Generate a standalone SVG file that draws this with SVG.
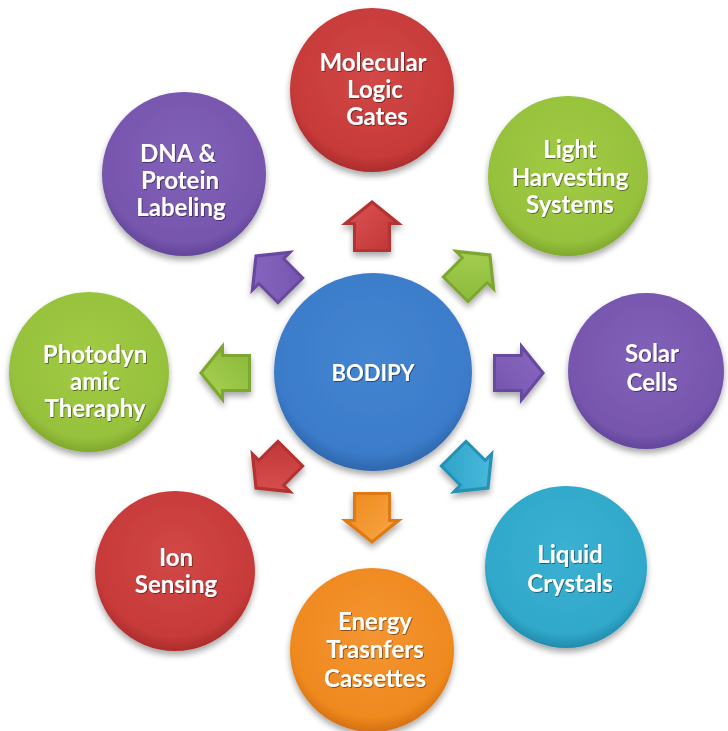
<svg xmlns="http://www.w3.org/2000/svg" width="728" height="731" viewBox="0 0 728 731">
  <defs>
    <style>
      .lbl { font-family: Lato, "Open Sans", "Liberation Sans", sans-serif; font-weight: 700; font-size: 24px; fill: #ffffff; text-anchor: middle; filter: url(#txtShadow); }
      .core { font-size: 22px; }
    </style>
    <filter id="shadow" x="-20%" y="-20%" width="140%" height="150%">
      <feGaussianBlur in="SourceAlpha" stdDeviation="3"/>
      <feOffset dx="0" dy="4" result="b"/>
      <feComponentTransfer><feFuncA type="linear" slope="0.35"/></feComponentTransfer>
      <feMerge><feMergeNode/><feMergeNode in="SourceGraphic"/></feMerge>
    </filter>
    <filter id="txtShadow" x="-10%" y="-30%" width="120%" height="160%">
      <feDropShadow dx="0.8" dy="0.8" stdDeviation="0.6" flood-color="#000" flood-opacity="0.55"/>
    </filter>

    <!-- ball gradients: slightly lighter top, darker rim -->
    <radialGradient id="gRed" cx="50%" cy="42%" r="58%">
      <stop offset="0" stop-color="#d24847"/><stop offset="0.85" stop-color="#c63a39"/><stop offset="1" stop-color="#ab2c2c"/>
    </radialGradient>
    <radialGradient id="gGreen" cx="50%" cy="42%" r="58%">
      <stop offset="0" stop-color="#a2cb45"/><stop offset="0.85" stop-color="#96c13c"/><stop offset="1" stop-color="#80a82e"/>
    </radialGradient>
    <radialGradient id="gPurple" cx="50%" cy="42%" r="58%">
      <stop offset="0" stop-color="#8261b8"/><stop offset="0.85" stop-color="#7756ae"/><stop offset="1" stop-color="#624699"/>
    </radialGradient>
    <radialGradient id="gCyan" cx="50%" cy="42%" r="58%">
      <stop offset="0" stop-color="#3bb1d2"/><stop offset="0.85" stop-color="#30a8ca"/><stop offset="1" stop-color="#228bad"/>
    </radialGradient>
    <radialGradient id="gOrange" cx="50%" cy="42%" r="58%">
      <stop offset="0" stop-color="#f49532"/><stop offset="0.85" stop-color="#ef891f"/><stop offset="1" stop-color="#d37012"/>
    </radialGradient>
    <radialGradient id="gBlue" cx="50%" cy="42%" r="58%">
      <stop offset="0" stop-color="#4485d0"/><stop offset="0.85" stop-color="#3b7cca"/><stop offset="1" stop-color="#2e66ab"/>
    </radialGradient>

    <!-- arrow face gradients -->
    <linearGradient id="aRed" x1="0" y1="0" x2="1" y2="1">
      <stop offset="0" stop-color="#dc5252"/><stop offset="1" stop-color="#c03636"/>
    </linearGradient>
    <linearGradient id="aGreen" x1="0" y1="0" x2="1" y2="1">
      <stop offset="0" stop-color="#a8d253"/><stop offset="1" stop-color="#8bb93a"/>
    </linearGradient>
    <linearGradient id="aPurple" x1="0" y1="0" x2="1" y2="1">
      <stop offset="0" stop-color="#8a68c2"/><stop offset="1" stop-color="#7455ad"/>
    </linearGradient>
    <linearGradient id="aCyan" x1="0" y1="0" x2="1" y2="1">
      <stop offset="0" stop-color="#4cbedf"/><stop offset="1" stop-color="#2ea3c7"/>
    </linearGradient>
    <linearGradient id="aOrange" x1="0" y1="0" x2="1" y2="1">
      <stop offset="0" stop-color="#f9a545"/><stop offset="1" stop-color="#ed8b1e"/>
    </linearGradient>

    <!-- block arrow pointing up, centred on the origin -->
    <path id="arrowOuter" d="M0,-26 L31,-1 L19,-1 L19,26 L-19,26 L-19,-1 L-31,-1 Z"/>
    <path id="arrowInner" d="M0,-22 L22,-4 L16,-4 L16,23 L-16,23 L-16,-4 L-22,-4 Z"/>
  </defs>

  <rect width="728" height="731" fill="#ffffff"/>

  <!-- connectors: bevelled block arrows radiating from the core -->
  <g id="connectors" filter="url(#shadow)">
    <g transform="translate(372,226)"><use href="#arrowOuter" fill="#b33131"/><use href="#arrowInner" fill="url(#aRed)"/></g>
    <g transform="translate(473,272) rotate(45)"><use href="#arrowOuter" fill="#7ea733"/><use href="#arrowInner" fill="url(#aGreen)"/></g>
    <g transform="translate(519,373) rotate(90)"><use href="#arrowOuter" fill="#684aa0"/><use href="#arrowInner" fill="url(#aPurple)"/></g>
    <g transform="translate(471,471) rotate(135)"><use href="#arrowOuter" fill="#2590b5"/><use href="#arrowInner" fill="url(#aCyan)"/></g>
    <g transform="translate(372,518) rotate(180)"><use href="#arrowOuter" fill="#de7a14"/><use href="#arrowInner" fill="url(#aOrange)"/></g>
    <g transform="translate(273,471) rotate(225)"><use href="#arrowOuter" fill="#b33131"/><use href="#arrowInner" fill="url(#aRed)"/></g>
    <g transform="translate(225,373) rotate(270)"><use href="#arrowOuter" fill="#7ea733"/><use href="#arrowInner" fill="url(#aGreen)"/></g>
    <g transform="translate(273,273) rotate(315)"><use href="#arrowOuter" fill="#684aa0"/><use href="#arrowInner" fill="url(#aPurple)"/></g>
  </g>

  <g id="bodipy">
    <circle cx="373" cy="372" r="99" fill="url(#gBlue)" filter="url(#shadow)"/>
    <text class="lbl core" x="373" y="381">BODIPY</text>
  </g>

  <g id="molecular-logic-gates">
    <circle cx="372" cy="90" r="82" fill="url(#gRed)" filter="url(#shadow)"/>
    <text class="lbl" x="373" y="71">Molecular</text>
    <text class="lbl" x="375" y="98">Logic</text>
    <text class="lbl" x="377" y="125">Gates</text>
  </g>

  <g id="light-harvesting-systems">
    <circle cx="568" cy="176" r="80" fill="url(#gGreen)" filter="url(#shadow)"/>
    <text class="lbl" x="570" y="158">Light</text>
    <text class="lbl" x="570" y="186">Harvesting</text>
    <text class="lbl" x="570" y="213">Systems</text>
  </g>

  <g id="solar-cells">
    <circle cx="646" cy="371" r="78" fill="url(#gPurple)" filter="url(#shadow)"/>
    <text class="lbl" x="652" y="362">Solar</text>
    <text class="lbl" x="652" y="391">Cells</text>
  </g>

  <g id="liquid-crystals">
    <circle cx="566" cy="567" r="81" fill="url(#gCyan)" filter="url(#shadow)"/>
    <text class="lbl" x="570" y="563">Liquid</text>
    <text class="lbl" x="570" y="592">Crystals</text>
  </g>

  <g id="energy-transfer-cassettes">
    <circle cx="372" cy="650" r="82" fill="url(#gOrange)" filter="url(#shadow)"/>
    <text class="lbl" x="375" y="630">Energy</text>
    <text class="lbl" x="375" y="658">Trasnfers</text>
    <text class="lbl" x="375" y="687">Cassettes</text>
  </g>

  <g id="ion-sensing">
    <circle cx="175" cy="571" r="80" fill="url(#gRed)" filter="url(#shadow)"/>
    <text class="lbl" x="176" y="566">Ion</text>
    <text class="lbl" x="176" y="593">Sensing</text>
  </g>

  <g id="photodynamic-therapy">
    <circle cx="89" cy="372" r="80" fill="url(#gGreen)" filter="url(#shadow)"/>
    <text class="lbl" x="95" y="363">Photodyn</text>
    <text class="lbl" x="95" y="390">amic</text>
    <text class="lbl" x="95" y="417">Theraphy</text>
  </g>

  <g id="dna-protein-labeling">
    <circle cx="184" cy="174" r="82" fill="url(#gPurple)" filter="url(#shadow)"/>
    <text class="lbl" x="178" y="162">DNA &amp;</text>
    <text class="lbl" x="180" y="189">Protein</text>
    <text class="lbl" x="181" y="216">Labeling</text>
  </g>
</svg>
